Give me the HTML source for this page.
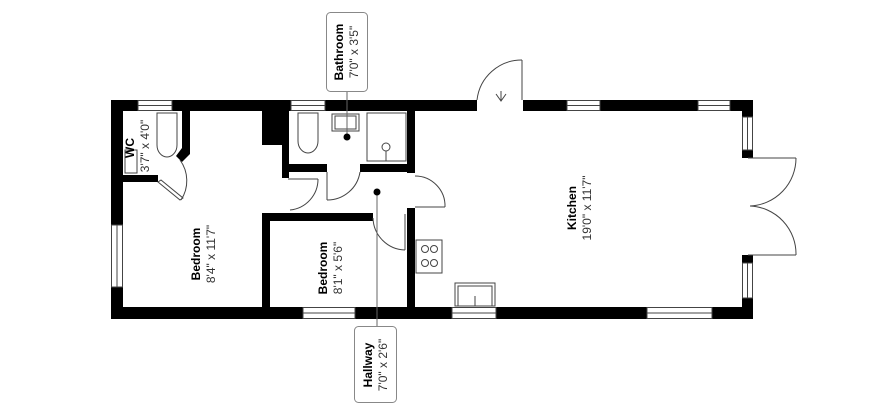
<!DOCTYPE html>
<html><head><meta charset="utf-8"><style>
body{margin:0;background:#fff;width:873px;height:419px;overflow:hidden}
svg{display:block}
text{font-family:"Liberation Sans",sans-serif}
</style></head><body>
<svg width="873" height="419" viewBox="0 0 873 419">
<g fill="#000">
<rect x="111" y="100" width="27" height="11"/>
<rect x="172" y="100" width="119" height="11"/>
<rect x="325" y="100" width="152" height="11"/>
<rect x="523" y="100" width="44" height="11"/>
<rect x="600" y="100" width="98" height="11"/>
<rect x="730" y="100" width="23" height="11"/>
<rect x="111" y="100" width="12" height="125"/>
<rect x="111" y="287" width="12" height="32"/>
<rect x="111" y="307" width="192" height="12"/>
<rect x="355" y="307" width="97" height="12"/>
<rect x="496" y="307" width="151" height="12"/>
<rect x="712" y="307" width="41" height="12"/>
<rect x="742" y="100" width="11" height="17"/>
<rect x="742" y="150" width="11" height="8"/>
<rect x="742" y="255" width="11" height="8"/>
<rect x="742" y="298" width="11" height="21"/>
<rect x="182" y="111" width="8" height="40"/>
<polygon points="182,148 190,148 190,154 182,162 176,156"/>
<rect x="123" y="175" width="35" height="7"/>
<rect x="262" y="111" width="22" height="34"/>
<rect x="282" y="111" width="7" height="67"/>
<rect x="282" y="164" width="45" height="8"/>
<rect x="360" y="164" width="55" height="8"/>
<rect x="407" y="111" width="8" height="62"/>
<rect x="407" y="208" width="8" height="111"/>
<rect x="262" y="213" width="111" height="8"/>
<rect x="262" y="213" width="8" height="100"/>
</g>
<g fill="#fff" stroke="#444" stroke-width="1">
<rect x="138" y="100.5" width="34" height="10"/>
<rect x="291" y="100.5" width="34" height="10"/>
<rect x="567" y="100.5" width="33" height="10"/>
<rect x="698" y="100.5" width="32" height="10"/>
<rect x="111.5" y="225" width="11" height="62"/>
<rect x="303" y="307.5" width="52" height="11"/>
<rect x="452" y="307.5" width="44" height="11"/>
<rect x="647" y="307.5" width="65" height="11"/>
<rect x="742.5" y="117" width="10" height="33"/>
<rect x="742.5" y="263" width="10" height="35"/>
</g>
<g fill="none" stroke="#444" stroke-width="1">
<line x1="138" y1="105.5" x2="172" y2="105.5"/><line x1="291" y1="105.5" x2="325" y2="105.5"/>
<line x1="567" y1="105.5" x2="600" y2="105.5"/><line x1="698" y1="105.5" x2="730" y2="105.5"/>
<line x1="117" y1="225" x2="117" y2="287"/><line x1="303" y1="313" x2="355" y2="313"/>
<line x1="452" y1="313" x2="496" y2="313"/><line x1="647" y1="313" x2="712" y2="313"/>
<line x1="747.5" y1="117" x2="747.5" y2="150"/><line x1="747.5" y1="263" x2="747.5" y2="298"/>
<line x1="522" y1="60" x2="522" y2="100"/><path d="M477,100 A45,45 0 0 1 522,60"/>
<path d="M496,94 L501,101 L506,94 M501,101 L501,91"/>
<line x1="748" y1="158" x2="796" y2="158"/><path d="M796,158 A48,48 0 0 1 750,206"/>
<line x1="748" y1="255" x2="796" y2="255"/><path d="M796,255 A48,48 0 0 0 750,206"/>
<line x1="415" y1="207" x2="445" y2="207"/><path d="M445,207 A30,30 0 0 0 415,176"/>
<line x1="405" y1="214" x2="405" y2="250"/><path d="M373,218 A33,33 0 0 0 405,250"/>
<line x1="288" y1="179" x2="318" y2="179"/><path d="M318,179 A31,31 0 0 1 290,210"/>
<line x1="327" y1="172" x2="327" y2="200"/><path d="M327,200 A33,33 0 0 0 360,172"/>
<path d="M158,182 L180,200 L183,198 L161,180 Z"/><path d="M181,200 A35,35 0 0 0 180,160"/>
<path d="M157,113 h20 v32 a10,12 0 0 1 -20,0 z"/>
<path d="M298,113 h20 v28 a10,12 0 0 1 -20,0 z"/>
<rect x="332" y="114" width="27" height="17"/><rect x="335" y="116" width="21" height="13"/>
<rect x="367" y="113" width="39" height="48"/><circle cx="386" cy="147" r="4"/><line x1="386" y1="151" x2="386" y2="161"/>
<rect x="125" y="150" width="12" height="23"/>
<rect x="416" y="240" width="26" height="33"/><circle cx="425" cy="249" r="3.5"/><circle cx="434" cy="249" r="3.5"/><circle cx="425" cy="263" r="3.5"/><circle cx="434" cy="263" r="3.5"/>
<rect x="455" y="283" width="40" height="23"/><rect x="458" y="286" width="34" height="20"/><line x1="475" y1="296" x2="475" y2="306"/>
</g>
<g stroke="#666" stroke-width="1">
<line x1="347" y1="92" x2="347" y2="137"/><line x1="377" y1="192" x2="377" y2="326"/>
</g>
<circle cx="347" cy="137" r="3.5"/><circle cx="377" cy="192" r="3.5"/>
<rect x="326.5" y="12.5" width="41" height="79" rx="4" fill="#fff" stroke="#888"/>
<rect x="354.5" y="326.5" width="42" height="76" rx="4" fill="#fff" stroke="#888"/>
<g font-size="12" fill="#000">
<text transform="translate(343,52) rotate(-90)" text-anchor="middle" font-weight="bold">Bathroom</text>
<text transform="translate(358,52) rotate(-90)" text-anchor="middle" fill="#333">7'0" x 3'5"</text>
<text transform="translate(372,365) rotate(-90)" text-anchor="middle" font-weight="bold">Hallway</text>
<text transform="translate(387,365) rotate(-90)" text-anchor="middle" fill="#333">7'0" x 2'6"</text>
<text transform="translate(200,254) rotate(-90)" text-anchor="middle" font-weight="bold">Bedroom</text>
<text transform="translate(215,254) rotate(-90)" text-anchor="middle" fill="#333">8'4" x 11'7"</text>
<text transform="translate(327,268) rotate(-90)" text-anchor="middle" font-weight="bold">Bedroom</text>
<text transform="translate(342,268) rotate(-90)" text-anchor="middle" fill="#333">8'1" x 5'6"</text>
<text transform="translate(576,208) rotate(-90)" text-anchor="middle" font-weight="bold">Kitchen</text>
<text transform="translate(591,208) rotate(-90)" text-anchor="middle" fill="#333">19'0" x 11'7"</text>
<text transform="translate(134,148) rotate(-90)" text-anchor="middle" font-weight="bold">WC</text>
<text transform="translate(149,146) rotate(-90)" text-anchor="middle" fill="#333">3'7" x 4'0"</text>
</g>
</svg>
</body></html>
